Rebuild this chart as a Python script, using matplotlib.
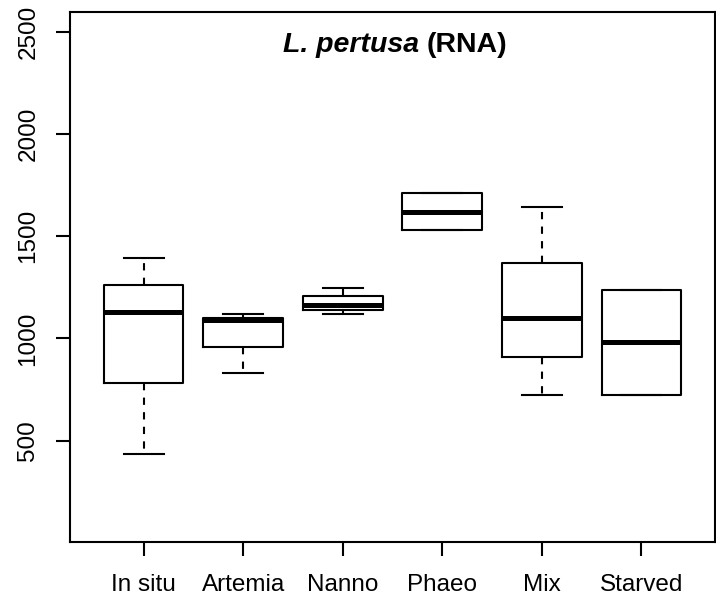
import matplotlib
matplotlib.use("Agg")
from matplotlib import pyplot as plt

# values (RNA, L. pertusa)
groups = ['In situ', 'Artemia', 'Nanno', 'Phaeo', 'Mix', 'Starved']
whislo = [434, 830, 1117, 1531, 724, 724]
q1 = [781, 957, 1140, 1531, 911, 724]
med = [1130, 1088, 1164, 1620, 1099, 982]
q3 = [1263, 1100, 1205, 1710, 1368, 1237]
whishi = [1392, 1117, 1246, 1710, 1642, 1237]
yticks = [500, 1000, 1500, 2000, 2500]

plt.rcParams['font.family'] = ['Liberation Sans', 'DejaVu Sans']

fig = plt.figure(figsize=(7.16, 6.06), dpi=100)
ax = fig.add_axes([0.0978, 0.1056, 0.9008, 0.8744])

stats = []
for i, g in enumerate(groups):
    stats.append({'label': g, 'whislo': whislo[i], 'q1': q1[i], 'med': med[i],
                  'q3': q3[i], 'whishi': whishi[i], 'fliers': []})

lw = 1.5
ax.bxp(stats, positions=range(1, len(groups) + 1), widths=0.8, capwidths=0.4,
       showfliers=False,
       boxprops=dict(color='black', linewidth=lw),
       medianprops=dict(color='black', linewidth=3.6, solid_capstyle='butt'),
       whiskerprops=dict(color='black', linewidth=lw, linestyle=(0, (3.5, 3.5))),
       capprops=dict(color='black', linewidth=lw))

ax.set_xlim(0.26, 6.74)
ax.set_ylim(4, 2596)
ax.set_yticks(yticks)
ax.set_yticklabels([str(v) for v in yticks], rotation=90, va='center')
ax.set_xticks(range(1, len(groups) + 1))
ax.set_xticklabels(groups)

ax.tick_params(axis='both', length=10, width=lw, labelsize=17.5)
ax.tick_params(axis='x', pad=13)
ax.tick_params(axis='y', pad=12)
for s in ax.spines.values():
    s.set_linewidth(lw)

# title inside the plot: italic species name + bold "(RNA)"
split = 0.5465
ax.text(split - 0.006, 0.9245, 'L. pertusa', transform=ax.transAxes,
        ha='right', va='baseline', fontsize=20.5, fontweight='bold', fontstyle='italic')
ax.text(split + 0.006, 0.9245, '(RNA)', transform=ax.transAxes,
        ha='left', va='baseline', fontsize=20.5, fontweight='bold')

fig.savefig('out.png', dpi=100)
